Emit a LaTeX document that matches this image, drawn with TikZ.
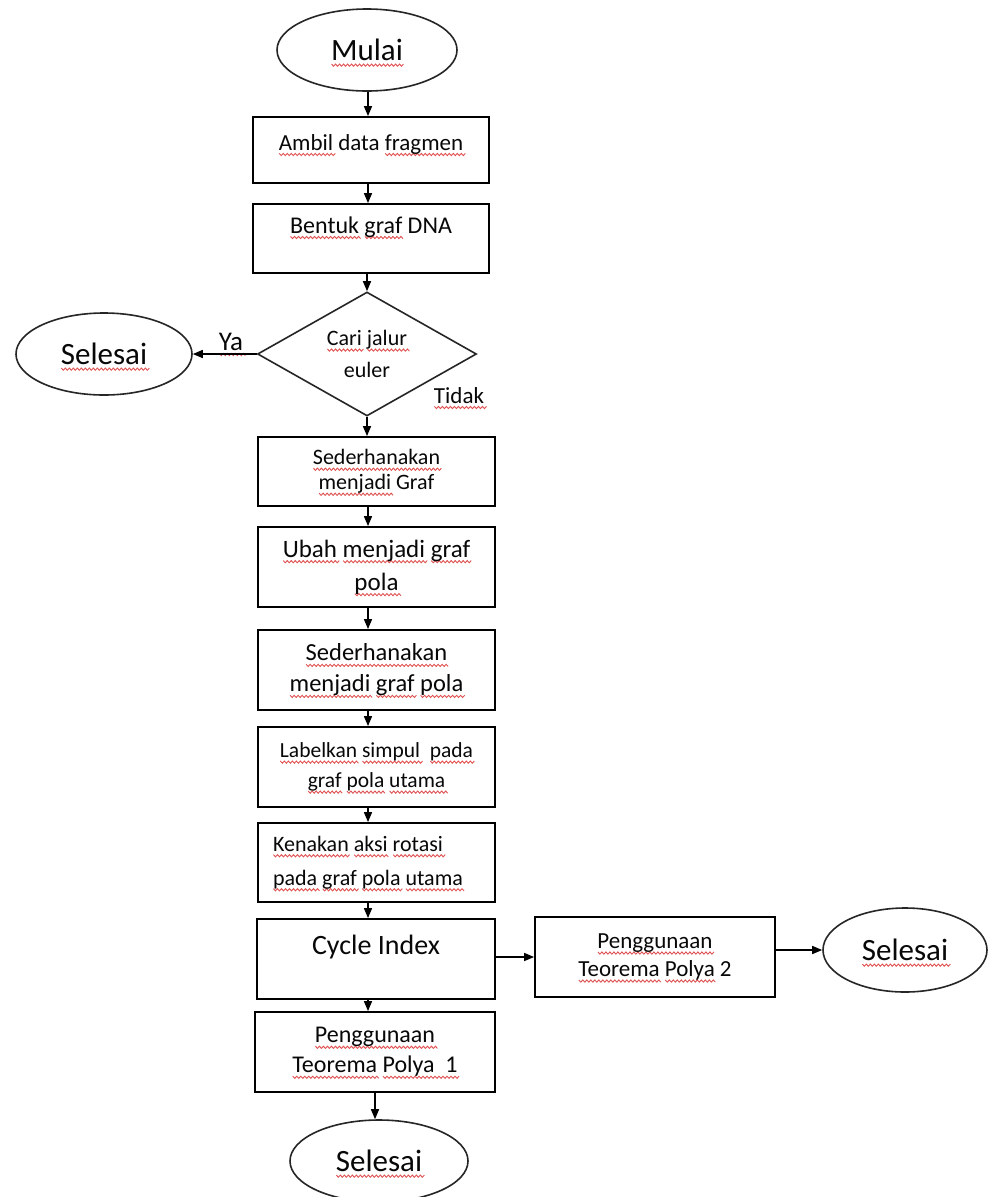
\documentclass[tikz,border=0pt]{standalone}
\usepackage{fontspec}
\setmainfont{Carlito}
\usetikzlibrary{shapes.geometric,arrows.meta,calc}
\definecolor{wred}{rgb}{0.88,0.32,0.32}
\definecolor{ink}{gray}{0.03}
\newdimen\wvw \newdimen\wvx \newcount\wvs
\newcommand\wavepic{\begin{pgfpicture}\pgftransformreset
  \pgfsetlinewidth{0.9pt}%
  \pgfpathmoveto{\pgfpoint{0pt}{-3.4pt}}%
  \wvx=0pt \wvs=0
  \loop
    \advance\wvx by 2pt
    \ifodd\wvs \pgfpathlineto{\pgfpoint{\wvx}{-3.4pt}}\else\pgfpathlineto{\pgfpoint{\wvx}{-5.6pt}}\fi
    \advance\wvs by 1
  \ifdim\wvx<\wvw \repeat
  \pgfusepath{stroke}\pgfsetbaseline{0pt}\end{pgfpicture}}
\newcommand\spl[1]{\setbox0=\hbox{#1}\wvw=\wd0\relax\leavevmode\rlap{\smash{{\color{wred}\wavepic}}}\box0\relax}
\tikzset{
  box/.style={draw=black, line width=1.8pt, rectangle, inner sep=0pt, text=ink},
  oval/.style={draw=black!85, line width=1.6pt, ellipse, inner sep=0pt, text=ink,
               font=\fontsize{31}{36}\selectfont},
  arr/.style={draw=black, line width=1.5pt, -{Triangle[length=10pt,width=8pt,fill=black]}},
  lbl/.style={text=ink, inner sep=0pt},
}
\begin{document}
\begin{tikzpicture}[x=1pt,y=-1pt]
\fill[white] (0,0) rectangle (989,1197);
\useasboundingbox (0,0) rectangle (989,1197);
\coordinate (col) at (368,0);

\node[oval, minimum width=180pt, minimum height=82pt] (mulai) at (367,50) {\spl{Mulai}};
\node[box, minimum width=236pt, minimum height=66pt, text height=12pt, text depth=12pt,
      font=\fontsize{23}{28}\selectfont] (b1) at (371,150) {\spl{Ambil} data \spl{fragmen}};
\node[box, minimum width=236pt, minimum height=69pt, text height=12pt, text depth=23pt,
      font=\fontsize{24}{28}\selectfont] (b2) at (371,238.5) {\spl{Bentuk} \spl{graf} DNA};
\node[diamond, draw=black!85, line width=1.6pt, aspect=1.77, minimum width=219pt,
      minimum height=124pt, inner sep=0pt, align=center, text=ink,
      font=\fontsize{22}{32}\selectfont] (dia) at (367,354) {\spl{Cari} \spl{jalur}\\euler};
\node[oval, minimum width=176pt, minimum height=82pt] (s1) at (104,354) {\spl{Selesai}};
\node[lbl, font=\fontsize{27}{30}\selectfont, anchor=base] (ya) at (231,350) {\spl{Ya}};
\node[lbl, font=\fontsize{23}{28}\selectfont, anchor=base] (tidak) at (459,403) {\spl{Tidak}};

\node[box, minimum width=237pt, minimum height=69pt, align=center,
      font=\fontsize{22}{25}\selectfont] (b3) at (376.5,471.5) {\spl{Sederhanakan}\\\spl{menjadi} Graf};
\node[box, minimum width=237pt, minimum height=80pt, align=center,
      font=\fontsize{25}{33}\selectfont] (b4) at (376.5,567) {\spl{Ubah} \spl{menjadi} \spl{graf}\\\spl{pola}};
\node[box, minimum width=237pt, minimum height=80pt, align=center,
      font=\fontsize{24.5}{31}\selectfont] (b5) at (376.5,670) {\spl{Sederhanakan}\\\spl{menjadi} \spl{graf} \spl{pola}};
\node[box, minimum width=237pt, minimum height=80pt, align=center,
      font=\fontsize{21.5}{30}\selectfont] (b6) at (376.5,767) {\spl{Labelkan} \spl{simpul}\ \ \spl{pada}\\\spl{graf} \spl{pola} \spl{utama}};
\node[box, minimum width=237pt, minimum height=79pt, text width=207pt, align=flush left,
      font=\fontsize{22}{34}\selectfont] (b7) at (376.5,862.5) {\spl{Kenakan} \spl{aksi} \spl{rotasi}\\\spl{pada} \spl{graf} \spl{pola} \spl{utama}};
\node[box, minimum width=238pt, minimum height=80pt, text height=12pt, text depth=22pt,
      font=\fontsize{28}{32}\selectfont] (b8) at (376,959) {Cycle Index};
\node[box, minimum width=240pt, minimum height=80pt, align=center,
      font=\fontsize{23}{28}\selectfont] (b9) at (655,957) {\spl{Penggunaan}\\\spl{Teorema} \spl{Polya} 2};
\node[oval, minimum width=164pt, minimum height=84pt] (s2) at (905,950) {\spl{Selesai}};
\node[box, minimum width=240pt, minimum height=80pt, align=center,
      font=\fontsize{24}{30}\selectfont] (b10) at (375,1052) {\spl{Penggunaan}\\\spl{Teorema} \spl{Polya\ \ 1}};
\node[oval, minimum width=178pt, minimum height=82pt] (s3) at (379,1161) {\spl{Selesai}};

\draw[arr] (mulai.south -| col) -- (b1.north -| col);
\draw[arr] (b1.south -| col) -- (b2.north -| col);
\draw[arr] (b2.south -| dia.north) -- (dia.north);
\draw[arr] (dia.west) -- (s1.east);
\draw[arr] (dia.south) -- (b3.north -| dia.south);
\draw[arr] (b3.south -| col) -- (b4.north -| col);
\draw[arr] (b4.south -| col) -- (b5.north -| col);
\draw[arr] (b5.south -| col) -- (b6.north -| col);
\draw[arr] (b6.south -| col) -- (b7.north -| col);
\draw[arr] (b7.south -| col) -- (b8.north -| col);
\draw[arr] (b8.south -| col) -- (b10.north -| col);
\draw[arr] (b9.west -| b8.east) -- (b9.west);
\draw[arr] (s2.west -| b9.east) -- (s2.west);
\draw[arr] (b10.south) -- (b10.south |- s3.north);
\end{tikzpicture}
\end{document}
